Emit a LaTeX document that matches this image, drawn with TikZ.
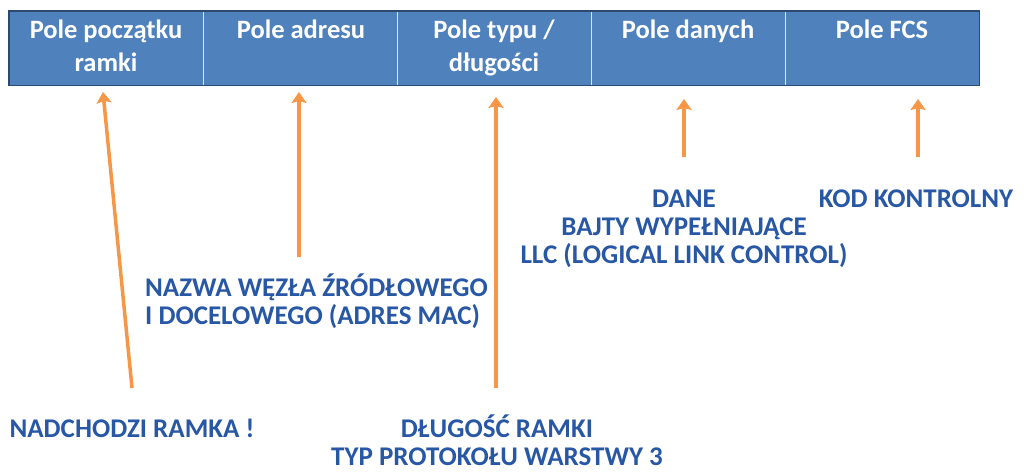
\documentclass[tikz,border=0pt]{standalone}
\usepackage{fontspec}
\setmainfont{Carlito}
\usetikzlibrary{arrows.meta}
\definecolor{barblue}{HTML}{4F81BD}
\definecolor{barborder}{HTML}{2C4A70}
\definecolor{divline}{HTML}{DCE6F2}
\definecolor{txtblue}{HTML}{2858A5}
\definecolor{arrorange}{HTML}{F79646}
\begin{document}
\begin{tikzpicture}[x=1pt,y=-1pt,
  cellbox/.style={fill=barblue, draw=none, minimum width=194pt, minimum height=74pt, inner sep=0pt, anchor=north west},
  headtext/.style={text=white, font=\bfseries\fontsize{26.5}{33}\selectfont, align=center, anchor=base, inner sep=0pt},
  bluetext/.style={text=txtblue, font=\bfseries\fontsize{27}{28}\selectfont, inner sep=0pt, anchor=base},
  uparrow/.style={draw=arrorange, line width=3.5pt, -{Stealth[inset=2pt,length=11pt,width=15pt]}},
  divider/.style={draw=divline, line width=1pt}]
\useasboundingbox (0,0) rectangle (1024,473);
% cells
\node[cellbox] (c1) at (9,11) {};
\node[cellbox] (c2) at (203,11) {};
\node[cellbox] (c3) at (397,11) {};
\node[cellbox] (c4) at (591,11) {};
\node[cellbox] (c5) at (785,11) {};
\draw[divider] (c1.north east) -- (c1.south east);
\draw[divider] (c2.north east) -- (c2.south east);
\draw[divider] (c3.north east) -- (c3.south east);
\draw[divider] (c4.north east) -- (c4.south east);
\draw[draw=barborder, line width=1.5pt] (c1.north west) rectangle (c5.south east);
% header texts (base = last line)
\node[headtext] (h1) at (106,72) {Pole początku\\ramki};
\node[headtext] (h2) at (301,39) {Pole adresu};
\node[headtext] (h3) at (494,72) {Pole typu /\\długości};
\node[headtext] (h4) at (688,39) {Pole danych};
\node[headtext] (h5) at (882,39) {Pole FCS};
% blue texts (base = last line)
\node[bluetext, align=center] (t1) at (132,437) {NADCHODZI RAMKA !};
\node[bluetext, align=left, anchor=base west] (t2) at (145,324) {NAZWA WĘZŁA ŹRÓDŁOWEGO\\I DOCELOWEGO (ADRES MAC)};
\node[bluetext, align=center] (t3) at (497,465) {DŁUGOŚĆ RAMKI\\TYP PROTOKOŁU WARSTWY 3};
\node[bluetext, align=center] (t4) at (684,263) {DANE\\BAJTY WYPEŁNIAJĄCE\\LLC (LOGICAL LINK CONTROL)};
\node[bluetext, align=center] (t5) at (916,207) {KOD KONTROLNY};
% arrow end points
\coordinate (s1) at (132,388);
\coordinate (e1) at (103,92);
\coordinate (s2) at (299,257);
\coordinate (e2) at (299,92);
\coordinate (s3) at (496,388);
\coordinate (e3) at (496,97);
\coordinate (s4) at (684,157);
\coordinate (e4) at (684,99);
\coordinate (s5) at (918,157);
\coordinate (e5) at (918,99);
\draw[uparrow] (s1) -- (e1);
\draw[uparrow] (s2) -- (e2);
\draw[uparrow] (s3) -- (e3);
\draw[uparrow] (s4) -- (e4);
\draw[uparrow] (s5) -- (e5);
\end{tikzpicture}
\end{document}
